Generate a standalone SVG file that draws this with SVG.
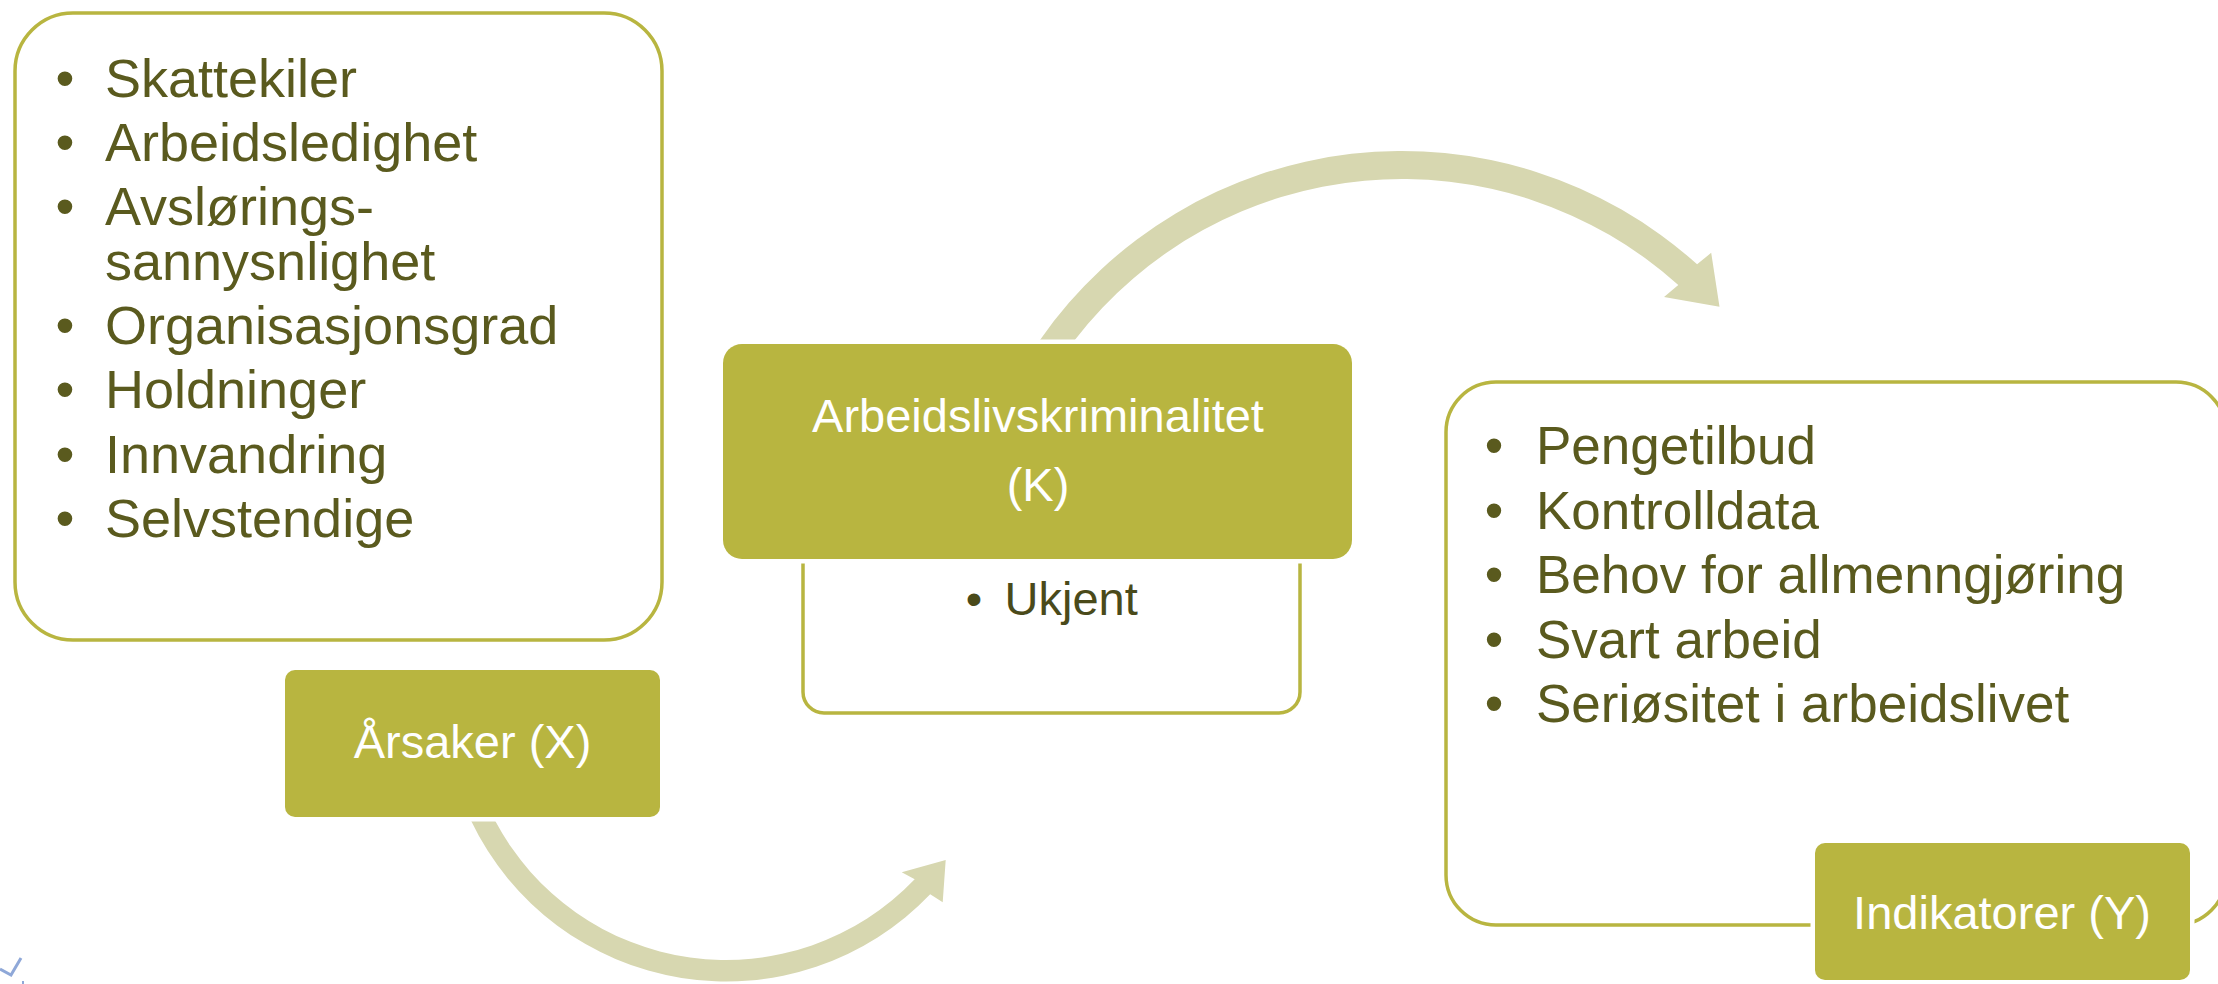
<svg xmlns="http://www.w3.org/2000/svg" width="2218" height="984" viewBox="0 0 2218 984">
<style>
.frame{fill:#ffffff;stroke:#B8B540;stroke-width:3.5}
.tab{fill:#B8B540;stroke:#ffffff;stroke-width:9;paint-order:stroke}
.list{font-family:"Liberation Sans",Arial,sans-serif;fill:#5A5A1E}
.lbl{font-family:"Liberation Sans",Arial,sans-serif;fill:#ffffff;font-size:47px;text-anchor:middle}
.bul{text-anchor:middle}
.arrow{fill:#D7D7B0}
</style>
<rect width="2218" height="984" fill="#ffffff"/>
<g id="connectors">
<path class="arrow" d="M 1040,340 A 441 441 0 0 1 1697.1,264.3 L 1711.2,252.8 L 1719.5,306.7 L 1664,297 L 1678.3,285.1 A 413 413 0 0 0 1074.8,340 Z"/>
<path class="arrow" d="M 471.2,821 A 282.5 282.5 0 0 0 930.2,894.2 L 942.7,902.3 L 945.7,860 L 901.7,872.3 L 914.7,879.3 A 261 261 0 0 1 495.3,821 Z"/>
</g>
<g id="node-causes">
<rect class="frame" x="15" y="13" width="647" height="627" rx="58"/>
<g class="list" font-size="54">
<text class="bul" x="65" y="97">•</text><text x="105" y="97">Skattekiler</text>
<text class="bul" x="65" y="161">•</text><text x="105" y="161">Arbeidsledighet</text>
<text class="bul" x="65" y="225">•</text><text x="105" y="225">Avslørings-</text>
<text x="105" y="280">sannysnlighet</text>
<text class="bul" x="65" y="344">•</text><text x="105" y="344">Organisasjonsgrad</text>
<text class="bul" x="65" y="408">•</text><text x="105" y="408">Holdninger</text>
<text class="bul" x="65" y="473">•</text><text x="105" y="473">Innvandring</text>
<text class="bul" x="65" y="537">•</text><text x="105" y="537">Selvstendige</text>
</g>
<rect class="tab" x="285" y="670" width="375" height="147" rx="10"/>
<text class="lbl" x="472.5" y="758">Årsaker (X)</text>
</g>
<g id="node-crime">
<rect class="frame" x="803" y="520" width="497" height="193" rx="21"/>
<rect class="tab" x="723" y="344" width="629" height="215" rx="19"/>
<text class="lbl" x="1038" y="432">Arbeidslivskriminalitet</text>
<text class="lbl" x="1038" y="501">(K)</text>
<g class="list" font-size="47" fill="#4A4A1A" style="fill:#4A4A1A">
<text class="bul" x="974" y="615">•</text><text x="1004.6" y="615">Ukjent</text>
</g>
</g>
<g id="node-indicators">
<rect class="frame" x="1446" y="382" width="780" height="543" rx="50"/>
<g class="list" font-size="53">
<text class="bul" x="1494" y="464">•</text><text x="1536" y="464">Pengetilbud</text>
<text class="bul" x="1494" y="529">•</text><text x="1536" y="529">Kontrolldata</text>
<text class="bul" x="1494" y="593">•</text><text x="1536" y="593">Behov for allmenngjøring</text>
<text class="bul" x="1494" y="658">•</text><text x="1536" y="658">Svart arbeid</text>
<text class="bul" x="1494" y="722">•</text><text x="1536" y="722">Seriøsitet i arbeidslivet</text>
</g>
<rect class="tab" x="1815" y="843" width="375" height="137" rx="10"/>
<text class="lbl" x="2002" y="929">Indikatorer (Y)</text>
</g>
<g id="corner-mark">
<path d="M 0,969 L 11,975 L 21,958" fill="none" stroke="#8FA8D8" stroke-width="3"/>
<path d="M 23,981 L 23,984" fill="none" stroke="#8FA8D8" stroke-width="2"/>
</g>
</svg>
